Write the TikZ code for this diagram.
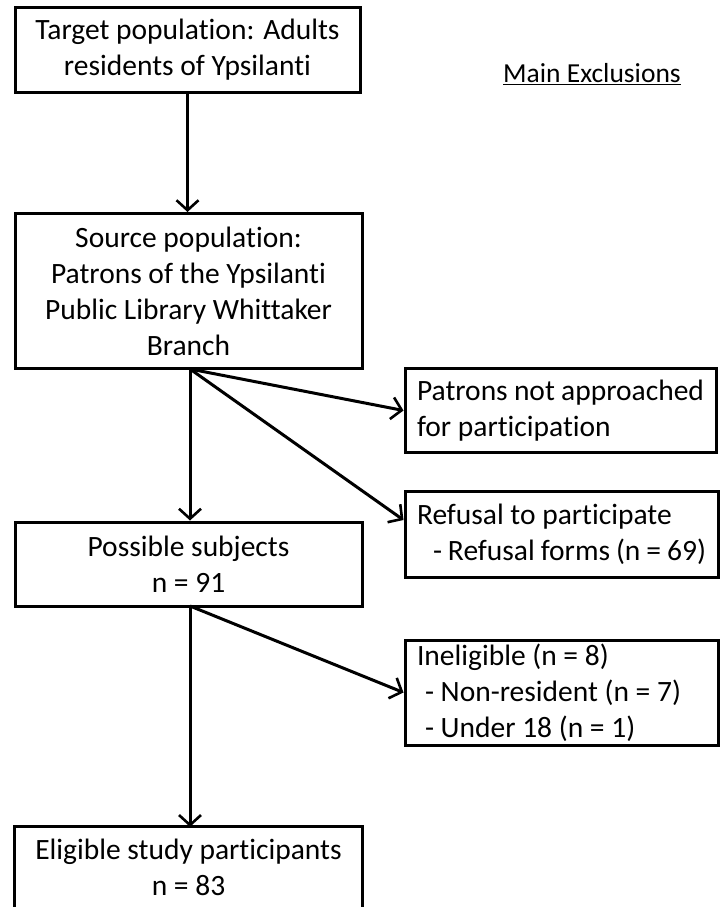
\documentclass[tikz,border=0pt]{standalone}
\usepackage{fontspec}
\setmainfont[Ligatures={NoCommon}]{Carlito}
\usetikzlibrary{arrows.meta,calc}
\begin{document}
\begin{tikzpicture}[x=1pt,y=-1pt,
  txt/.style={inner sep=0pt,font=\fontsize{29.5}{36}\selectfont},
  box/.style={txt,draw,line width=3pt,rectangle},
  cbox/.style={box,align=center},
  lbox/.style={box,align=flush left},
  arr/.style={line width=3pt,-{Straight Barb[length=10pt,width=22pt,line width=2.6pt]}}]
\useasboundingbox[fill=white] (0,0) rectangle (722,907);
\clip (0,0) rectangle (722,907);
\node[cbox,minimum width=345pt,minimum height=84pt] (target) at (187.5,50) {Target population: Adults\\residents of Ypsilanti};
\node[font=\fontsize{27.5}{34}\selectfont,inner sep=0pt] (mainex) at (592,74) {\underline{Main Exclusions}};
\node[cbox,minimum width=347pt,minimum height=155pt] (source) at (188.5,291) {Source population:\\Patrons of the Ypsilanti\\Public Library Whittaker\\Branch};
\node[lbox,minimum width=311pt,minimum height=84pt,text width=287pt] (notapp) at (560.5,410.5) {Patrons not approached\\for participation};
\node[lbox,minimum width=313pt,minimum height=86pt,text width=289pt] (refusal) at (561.5,534) {Refusal to participate\\\hspace*{16pt}- Refusal forms (n = 69)};
\node[cbox,minimum width=347pt,minimum height=84pt] (possible) at (188.5,564) {Possible subjects\\n = 91};
\node[lbox,minimum width=313pt,minimum height=105pt,text width=289pt] (inelig) at (561.5,692.5) {Ineligible (n = 8)\\\hspace*{8pt}- Non-resident (n = 7)\\\hspace*{8pt}- Under 18 (n = 1)};
\node[txt,align=center,minimum width=347pt,minimum height=80pt] (eligible) at (188.5,867) {Eligible study participants\\n = 83};
\draw[line width=3pt] ($(eligible.south west)+(0,30)$) -- (eligible.north west) -- (eligible.north east) -- ($(eligible.south east)+(0,30)$);
\coordinate (s1) at (190,369);
\coordinate (s2) at (190,606);
\draw[arr] (target.south) -- (target.south |- source.north);
\draw[arr] (s1) -- (notapp.west);
\draw[arr] (s1) -- ($(refusal.west)+(0,-14)$);
\draw[arr] (s1) -- (s1 |- possible.north);
\draw[arr] (s2) -- (inelig.west);
\draw[arr] (s2) -- (s2 |- eligible.north);
\end{tikzpicture}
\end{document}
